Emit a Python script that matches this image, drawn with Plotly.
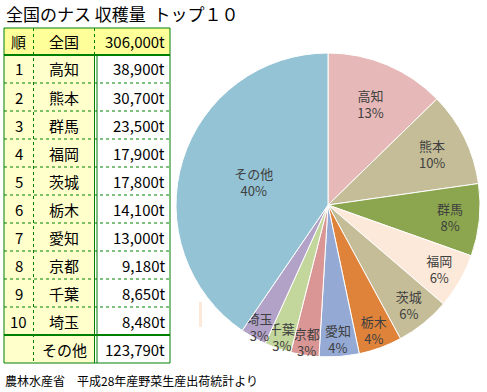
import plotly.graph_objects as go

# ---------------- data ----------------
title_text = "全国のナス 収穫量\u00a0\u00a0トップ１０"
header_labels = ["順", "全国"]
national_total_t = 306000
ranks = ["1", "2", "3", "4", "5", "6", "7", "8", "9", "10"]
prefectures = ["高知", "熊本", "群馬", "福岡", "茨城", "栃木", "愛知", "京都", "千葉", "埼玉"]
harvest_t = [38900, 30700, 23500, 17900, 17800, 14100, 13000, 9180, 8650, 8480]
other_label = "その他"
other_t = 123790
pie_pct_labels = ["13%", "10%", "8%", "6%", "6%", "4%", "4%", "3%", "3%", "3%", "40%"]
slice_colors = ["#E6B9B8", "#C4BD97", "#8BA64E", "#FDE9D9", "#C4BD97", "#E0833A",
                "#95A9D5", "#D99694", "#C3D69B", "#B2A2C7", "#93C3D4"]
source_text = "農林水産省　平成28年産野菜生産出荷統計より"

# ---------------- layout helpers ----------------
W, H = 487, 392
FONT = "Noto Sans CJK JP"
GREEN = "#008000"


def px(x):
    return x / W


def py(y):
    return 1 - y / H


fig = go.Figure()

pie_labels = prefectures + [other_label]
pie_values = harvest_t + [other_t]

cx, cy, r = 328, 205, 152
fig.add_trace(go.Pie(
    labels=pie_labels,
    values=pie_values,
    text=pie_pct_labels,
    texttemplate="%{label}<br>%{text}",
    textposition="inside",
    insidetextorientation="horizontal",
    textfont=dict(family=FONT, size=13, color="#404040"),
    sort=False,
    direction="clockwise",
    rotation=0,
    marker=dict(colors=slice_colors, line=dict(color="white", width=1)),
    domain=dict(x=[px(cx - r), px(cx + r)], y=[py(cy + r), py(cy - r)]),
    showlegend=False,
    hoverinfo="label+value+percent",
))

shapes = []
annotations = []

# table geometry
x0, x1, x2a, x2b, x3 = 4, 33.5, 94.5, 96.5, 170
top, head_bot, row_h = 28, 55, 28
n_rows = len(ranks) + 1
bottom = head_bot + n_rows * row_h


def rect(xa, ya, xb, yb, fill):
    shapes.append(dict(type="rect", xref="paper", yref="paper",
                       x0=px(xa), x1=px(xb), y0=py(yb), y1=py(ya),
                       fillcolor=fill, line=dict(width=0), layer="below"))


def line(xa, ya, xb, yb, dash="solid", width=1):
    shapes.append(dict(type="line", xref="paper", yref="paper",
                       x0=px(xa), x1=px(xb), y0=py(ya), y1=py(yb),
                       line=dict(color=GREEN, width=width, dash=dash)))


# fills
rect(x0, top, x3, head_bot, "#FFFF99")
rect(x0, head_bot, x2a, bottom, "#FFFFCC")
rect(x2b, head_bot, x3, bottom, "#FFFFFF")

# row lines
for i in range(1, n_rows):
    yy = head_bot + i * row_h
    if i == n_rows - 1:
        line(x0, yy, x3, yy, width=2)
    else:
        line(x0, yy, x3, yy, dash="dot")
line(x0, head_bot, x3, head_bot, width=2)
# verticals
line(x1, top, x1, bottom, dash="dot")
line(x2a, top, x2a, head_bot, dash="dot")
line(x2a, head_bot, x2a, bottom)
line(x2b + 0.5, head_bot, x2b + 0.5, bottom)
# outer border
line(x0, top, x3, top)
line(x0, bottom, x3, bottom)
line(x0, top, x0, bottom)
line(x3, top, x3, bottom)


def txt(x, y, s, anchor="center", size=15, color="black"):
    annotations.append(dict(xref="paper", yref="paper", x=px(x), y=py(y),
                            text=s, showarrow=False, xanchor=anchor, yanchor="middle",
                            font=dict(family=FONT, size=size, color=color)))


def fmt(v):
    return f"{v:,}t"


txt((x0 + x1) / 2, (top + head_bot) / 2, header_labels[0])
txt((x1 + x2a) / 2, (top + head_bot) / 2, header_labels[1])
txt(x3 - 3, (top + head_bot) / 2, fmt(national_total_t), anchor="right")
for i, (rk, pf, v) in enumerate(zip(ranks, prefectures, harvest_t)):
    yc = head_bot + (i + 0.5) * row_h
    txt((x0 + x1) / 2, yc, rk)
    txt((x1 + x2a) / 2, yc, pf)
    txt(x3 - 3, yc, fmt(v), anchor="right")
yc = head_bot + (n_rows - 0.5) * row_h
txt((x1 + x2a) / 2, yc, other_label)
txt(x3 - 3, yc, fmt(other_t), anchor="right")

# title and source
txt(4, 13, title_text, anchor="left", size=17)
txt(3, 380, source_text, anchor="left", size=12)

# small stray mark in reference
shapes.append(dict(type="rect", xref="paper", yref="paper",
                   x0=px(199), x1=px(202), y0=py(327), y1=py(302),
                   fillcolor="#FDE9D9", line=dict(width=0)))

fig.update_layout(
    width=W, height=H,
    margin=dict(l=0, r=0, t=0, b=0),
    paper_bgcolor="white",
    plot_bgcolor="white",
    shapes=shapes,
    annotations=annotations,
    uniformtext=dict(minsize=13, mode="show"),
    font=dict(family=FONT),
)

fig.write_html("out.html",
               config={"displayModeBar": False},
               post_script="document.body.style.margin='0px';document.body.style.overflow='hidden';")
